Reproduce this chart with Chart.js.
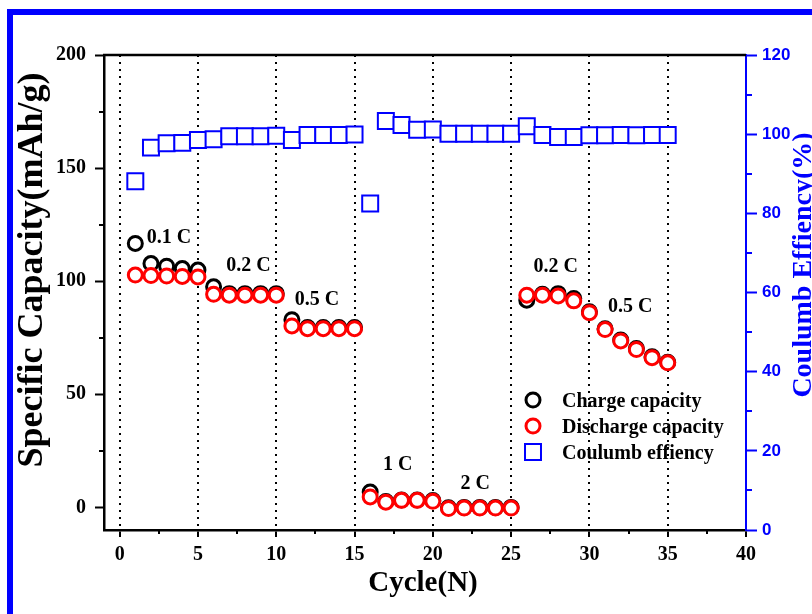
<!DOCTYPE html>
<html>
<head>
<meta charset="utf-8">
<script src="https://cdn.jsdelivr.net/npm/chart.js@4.4.1/dist/chart.umd.min.js"></script>
<style>
  html, body { margin: 0; padding: 0; background: #fff; }
  #wrap { position: absolute; left: 0; top: 0; width: 812px; height: 614px; overflow: hidden; }
  #frame { position: absolute; left: 7px; top: 9px; width: 900px; height: 700px;
           border-left: 6px solid #0000ff; border-top: 6px solid #0000ff; }
  canvas { position: absolute; left: 0; top: 0; }
</style>
</head>
<body>
<div id="wrap">
  <div id="frame"></div>
  <canvas id="rateChart" width="812" height="614"></canvas>
</div>
<script>
// cycle number of every measurement
const cycles = [1, 2, 3, 4, 5, 6, 7, 8, 9, 10, 11, 12, 13, 14, 15, 16, 17, 18,
  19, 20, 21, 22, 23, 24, 25, 26, 27, 28, 29, 30, 31, 32, 33, 34, 35];

// mAh/g
const chargeCapacity = [116.7, 107.8, 106.6, 105.6, 104.9, 97.5, 94.5, 94.5, 94.5, 94.5,
  83, 79.5, 79.5, 79.5, 79.5, 6.8, 2.6, 3.3, 3.3, 3, -0.2, 0, 0, 0, 0,
  91.6, 94.2, 94.5, 92.3, 86.5, 79, 74, 70.2, 66.6, 64.2];
const dischargeCapacity = [102.7, 102.5, 102.3, 102.1, 101.9, 94.2, 93.8, 93.8, 93.8, 93.8,
  80.2, 79, 79, 79, 79, 4.6, 2.3, 3.1, 3.1, 2.7, -0.5, -0.3, -0.3, -0.3, -0.3,
  93.8, 93.8, 93.5, 91.3, 86.1, 78.6, 73.6, 69.8, 66.2, 63.9];

// %
const coulombEfficiency = [88.1, 96.6, 97.7, 97.8, 98.5, 98.7, 99.5, 99.5, 99.5, 99.6,
  98.5, 99.8, 99.8, 99.8, 99.9, 82.5, 103.3, 102.3, 101.1, 101.2,
  100.1, 100.1, 100.1, 100.1, 100.1, 102, 99.8, 99.3, 99.3, 99.7, 99.7, 99.8, 99.7, 99.8, 99.8];

const xTicks = [0, 5, 10, 15, 20, 25, 30, 35, 40];
const xMinorTicks = [2.5, 7.5, 12.5, 17.5, 22.5, 27.5, 32.5, 37.5];
const capTicks = [0, 50, 100, 150, 200];
const capMinorTicks = [25, 75, 125, 175];
const effTicks = [0, 20, 40, 60, 80, 100, 120];
const effMinorTicks = [10, 30, 50, 70, 90, 110];

// C-rate notes, placed in data units (cycle, capacity)
const rateLabels = ["0.1 C", "0.2 C", "0.5 C", "1 C", "2 C", "0.2 C", "0.5 C"];
const rateLabelX = [3.15, 8.23, 12.6, 17.75, 22.7, 27.85, 32.6];
const rateLabelY = [119, 107, 91.6, 18.6, 10.6, 106.2, 88.5];

const legendX = 533;
const legendY = [400, 426, 452];

const BLUE = "#0000ff";
const SERIF = '"Liberation Serif", "Times New Roman", serif';

function toPoints(values) {
  return cycles.map((c, i) => ({ x: c, y: values[i] }));
}

function drawMarker(ctx, style, radius, x, y) {
  ctx.beginPath();
  if (style === "rect") {
    const half = radius * Math.SQRT1_2;
    ctx.rect(x - half, y - half, half * 2, half * 2);
  } else {
    ctx.arc(x, y, radius, 0, Math.PI * 2);
  }
  ctx.fill();
  ctx.stroke();
}

const decorPlugin = {
  id: "decor",
  afterDraw(chart) {
    const ctx = chart.ctx;
    const { x, y, y1 } = chart.scales;
    const area = chart.chartArea;
    ctx.save();

    // top frame line
    ctx.strokeStyle = "#000";
    ctx.lineWidth = 2.5;
    ctx.beginPath();
    ctx.moveTo(area.left - 1, area.top);
    ctx.lineTo(area.right, area.top);
    ctx.stroke();

    // minor ticks
    ctx.lineWidth = 2;
    ctx.beginPath();
    capMinorTicks.forEach((v) => {
      const py = Math.round(y.getPixelForValue(v));
      ctx.moveTo(area.left, py);
      ctx.lineTo(area.left - 5, py);
    });
    xMinorTicks.forEach((v) => {
      const px = Math.round(x.getPixelForValue(v));
      ctx.moveTo(px, area.bottom);
      ctx.lineTo(px, area.bottom + 4);
    });
    ctx.stroke();
    ctx.strokeStyle = BLUE;
    ctx.beginPath();
    effMinorTicks.forEach((v) => {
      const py = Math.round(y1.getPixelForValue(v));
      ctx.moveTo(area.right, py);
      ctx.lineTo(area.right + 6, py);
    });
    ctx.stroke();

    // C-rate labels
    ctx.fillStyle = "#000";
    ctx.font = "bold 20px " + SERIF;
    ctx.textAlign = "center";
    ctx.textBaseline = "middle";
    rateLabels.forEach((t, i) => {
      ctx.fillText(t, x.getPixelForValue(rateLabelX[i]), y.getPixelForValue(rateLabelY[i]));
    });

    // legend
    ctx.textAlign = "left";
    ctx.textBaseline = "alphabetic";
    chart.data.datasets.forEach((ds, i) => {
      ctx.strokeStyle = ds.pointBorderColor;
      ctx.fillStyle = "#fff";
      ctx.lineWidth = ds.pointBorderWidth;
      drawMarker(ctx, ds.pointStyle, ds.pointRadius, legendX, legendY[i]);
      ctx.fillStyle = "#000";
      ctx.fillText(ds.label, legendX + 29, legendY[i] + 7);
    });

    // axis titles
    ctx.textAlign = "center";
    ctx.font = "bold 36px " + SERIF;
    ctx.save();
    ctx.translate(42, 270);
    ctx.rotate(-Math.PI / 2);
    ctx.fillText("Specific Capacity(mAh/g)", 0, 0);
    ctx.restore();

    ctx.fillStyle = BLUE;
    ctx.font = "bold 28px " + SERIF;
    ctx.save();
    ctx.translate(811, 265);
    ctx.rotate(-Math.PI / 2);
    ctx.fillText("Coulumb Effiency(%)", 0, 0);
    ctx.restore();

    ctx.fillStyle = "#000";
    ctx.font = "bold 29px " + SERIF;
    ctx.fillText("Cycle(N)", 423, 591);

    ctx.restore();
  },
};

const tickFont = { family: SERIF, weight: "bold", size: 20 };

new Chart(document.getElementById("rateChart"), {
  type: "scatter",
  data: {
    datasets: [
      {
        label: "Charge capacity",
        data: toPoints(chargeCapacity),
        yAxisID: "y",
        pointStyle: "circle",
        pointRadius: 7,
        pointBorderWidth: 3,
        pointBorderColor: "#000",
        pointBackgroundColor: "#fff",
        order: 3,
      },
      {
        label: "Discharge capacity",
        data: toPoints(dischargeCapacity),
        yAxisID: "y",
        pointStyle: "circle",
        pointRadius: 7,
        pointBorderWidth: 3,
        pointBorderColor: "#ff0000",
        pointBackgroundColor: "#fff",
        order: 2,
      },
      {
        label: "Coulumb effiency",
        data: toPoints(coulombEfficiency),
        yAxisID: "y1",
        pointStyle: "rect",
        pointRadius: 11.3,
        pointBorderWidth: 2,
        pointBorderColor: BLUE,
        pointBackgroundColor: "#fff",
        order: 1,
      },
    ],
  },
  options: {
    responsive: false,
    animation: false,
    events: [],
    layout: { padding: { top: 55, left: 0, right: 0, bottom: 0 } },
    plugins: {
      legend: { display: false },
      tooltip: { enabled: false },
    },
    scales: {
      x: {
        type: "linear",
        position: "bottom",
        min: -1,
        max: 40,
        afterFit: (s) => { s.height = 84; },
        afterBuildTicks: (s) => { s.ticks = xTicks.map((v) => ({ value: v })); },
        grid: {
          drawOnChartArea: true,
          color: (c) => (c.tick && c.tick.value < 40 ? "#000" : "rgba(0,0,0,0)"),
          lineWidth: 2,
          tickColor: "#000",
          tickLength: 7,
          tickWidth: 2,
        },
        // in v4 border.dash is the dash of the grid lines
        border: { color: "#000", width: 2.5, dash: [2, 5] },
        ticks: { color: "#000", font: tickFont, padding: 6, maxRotation: 0 },
      },
      y: {
        position: "left",
        min: -10,
        max: 200,
        afterFit: (s) => { s.width = 104; },
        afterBuildTicks: (s) => { s.ticks = capTicks.map((v) => ({ value: v })); },
        grid: { drawOnChartArea: false, tickColor: "#000", tickLength: 9, tickWidth: 2 },
        border: { color: "#000", width: 2.5 },
        ticks: { color: "#000", font: tickFont, padding: 9 },
      },
      y1: {
        position: "right",
        min: 0,
        max: 120,
        afterFit: (s) => { s.width = 66; },
        afterBuildTicks: (s) => { s.ticks = effTicks.map((v) => ({ value: v })); },
        grid: { drawOnChartArea: false, tickColor: BLUE, tickLength: 11, tickWidth: 2 },
        border: { color: BLUE, width: 2 },
        ticks: {
          color: BLUE,
          font: { family: '"Liberation Sans", Arial, sans-serif', weight: "bold", size: 17 },
          padding: 5,
        },
      },
    },
  },
  plugins: [decorPlugin],
});
</script>
</body>
</html>
